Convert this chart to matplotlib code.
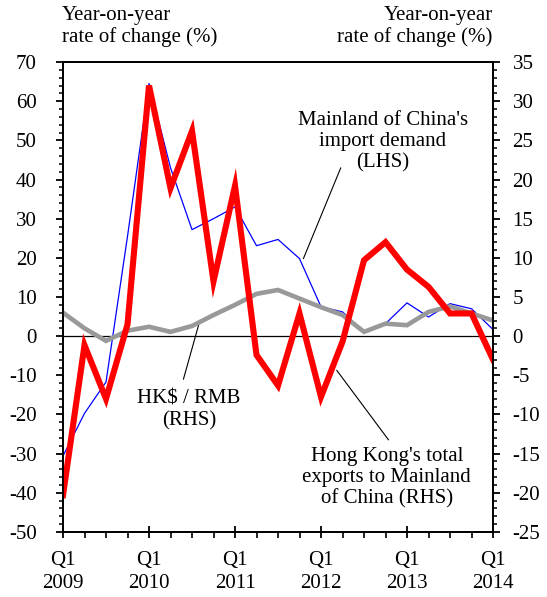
import matplotlib
matplotlib.use("Agg")
import matplotlib.pyplot as plt
from matplotlib.ticker import MultipleLocator

plt.rcParams['font.family'] = ['Liberation Serif', 'DejaVu Serif']
plt.rcParams['font.size'] = 15
plt.rcParams['axes.unicode_minus'] = False

# quarterly, Q1 2009 .. Q1 2014
quarters = list(range(21))
year_labels = ["Q1\n2009", "Q1\n2010", "Q1\n2011", "Q1\n2012", "Q1\n2013", "Q1\n2014"]

# Mainland of China's import demand, yoy % (LHS)
import_demand = [-30.6, -19.7, -11.7, 25.5, 64.5, 43.0, 27.2, 30.0, 33.0, 23.1, 24.7,
                 19.8, 7.5, 6.2, 1.1, 3.2, 8.5, 4.9, 8.3, 7.0, 1.7]
# Hong Kong's total exports to Mainland of China, yoy % (RHS)
hk_exports = [-20.3, -1.15, -8.0, 1.5, 32.0, 18.9, 26.2, 7.0, 19.2, -2.4, -6.3,
              2.9, -7.75, -0.7, 9.7, 12.0, 8.5, 6.3, 2.9, 2.9, -3.0]
# HK$ / RMB, yoy % (RHS)
hkd_rmb = [3.0, 1.0, -0.6, 0.7, 1.2, 0.55, 1.3, 2.7, 4.0, 5.4, 5.9,
           4.8, 3.7, 2.7, 0.55, 1.6, 1.4, 3.1, 3.8, 2.9, 2.0]

fig = plt.figure(figsize=(5.47, 5.97), dpi=100)
ax = fig.add_axes([0.1152, 0.1089, 0.7861, 0.7872])
ax2 = ax.twinx()

ax.plot(quarters, import_demand, color="#0000FF", lw=0.9)
ax.axhline(0, color="black", lw=0.9)
ax2.plot(quarters, hkd_rmb, color="#999999", lw=3.3, solid_joinstyle="miter")
ax2.plot(quarters, hk_exports, color="#FF0000", lw=4.4, solid_joinstyle="miter")

ax.set_xlim(0, 20)
ax.set_ylim(-50, 70)
ax2.set_ylim(-25, 35)

ax.set_xticks(range(0, 21, 4))
ax.set_xticklabels(year_labels, linespacing=1.3)
ax.xaxis.set_minor_locator(MultipleLocator(1))
ax.yaxis.set_major_locator(MultipleLocator(10))
ax.yaxis.set_minor_locator(MultipleLocator(2))
ax2.yaxis.set_major_locator(MultipleLocator(5))
ax2.yaxis.set_minor_locator(MultipleLocator(1))

ax.tick_params(axis="x", which="major", direction="inout", length=9, width=1.3, pad=9)
ax.tick_params(axis="x", which="minor", direction="out", length=4, width=1.2)
ax.tick_params(axis="y", which="major", direction="out", length=5, width=1.3, pad=14)
ax.tick_params(axis="y", which="minor", direction="out", length=3, width=1.1)
ax2.tick_params(axis="y", which="major", direction="out", length=5, width=1.3, pad=9)
ax2.tick_params(axis="y", which="minor", direction="out", length=3, width=1.1)
for a in (ax, ax2):
    for s in a.spines.values():
        s.set_linewidth(1.3)

fig.text(0.1134, 0.99, "Year-on-year\nrate of change (%)", ha="left", va="top",
         linespacing=1.15)
fig.text(0.901, 0.99, "Year-on-year\nrate of change (%)", ha="right", va="top",
         linespacing=1.15)

# annotations
ax.text(0.744, 0.83, "Mainland of China's\nimport demand\n(LHS)", transform=ax.transAxes,
        ha="center", va="center", linespacing=1.15)
ax.annotate("", xy=(11.18, 19.8), xytext=(0.646, 0.775), textcoords="axes fraction",
            arrowprops=dict(arrowstyle="-", color="black", lw=0.8, shrinkA=0, shrinkB=0))

ax.text(0.293, 0.26, "HK$ / RMB\n(RHS)", transform=ax.transAxes,
        ha="center", va="center", linespacing=1.15)
ax.annotate("", xy=(6.33, 3.3), xytext=(0.28, 0.325), textcoords="axes fraction",
            arrowprops=dict(arrowstyle="-", color="black", lw=0.8, shrinkA=0, shrinkB=0))

ax.text(0.753, 0.1155, "Hong Kong's total\nexports to Mainland\nof China (RHS)",
        transform=ax.transAxes, ha="center", va="center", linespacing=1.15)
ax.annotate("", xy=(12.73, -8.7), xytext=(0.757, 0.196), textcoords="axes fraction",
            arrowprops=dict(arrowstyle="-", color="black", lw=0.8, shrinkA=0, shrinkB=0))

fig.savefig("out.png", dpi=100)
